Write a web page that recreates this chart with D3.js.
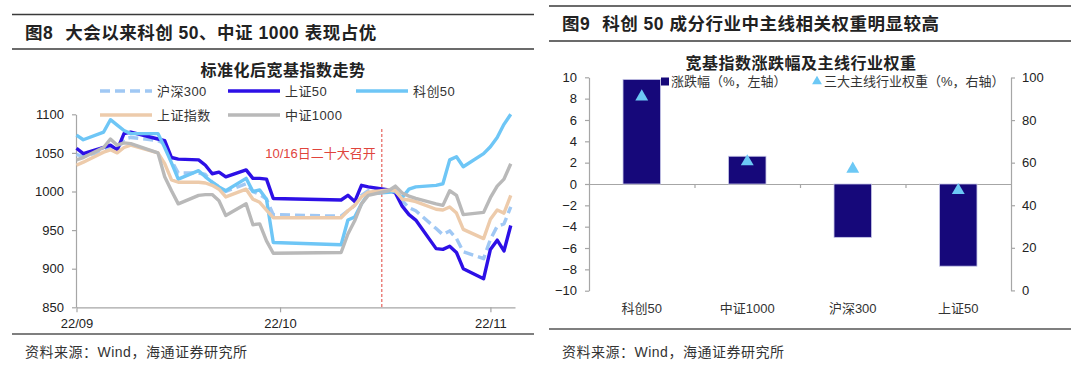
<!DOCTYPE html>
<html><head><meta charset="utf-8">
<script src="https://cdn.jsdelivr.net/npm/d3@7"></script>
<style>
body{margin:0;background:#fff;}
svg{display:block;}
text{font-family:"Liberation Sans",Arial,"Noto Sans CJK SC",sans-serif;fill:#222;}
</style>
</head><body>
<svg id="c" width="1080" height="365"></svg>
<script>
// ---------- Left chart data ----------
const dates = ["2022-09-01","2022-09-02","2022-09-05","2022-09-06","2022-09-07","2022-09-08","2022-09-09",
"2022-09-13","2022-09-14","2022-09-15","2022-09-16","2022-09-19","2022-09-20","2022-09-21","2022-09-22","2022-09-23",
"2022-09-26","2022-09-27","2022-09-28","2022-09-29","2022-09-30",
"2022-10-10","2022-10-11","2022-10-12","2022-10-13","2022-10-14","2022-10-17","2022-10-18","2022-10-19","2022-10-20","2022-10-21",
"2022-10-24","2022-10-25","2022-10-26","2022-10-27","2022-10-28","2022-10-31",
"2022-11-01","2022-11-02","2022-11-03","2022-11-04"];
const seriesNames = ["沪深300","上证50","科创50","上证指数","中证1000"];
const hs300  = [1048,1045,1053,1058,1055,1068,1070,1066,1062,1040,1024,1024,1022,1012,1006,1000,1010,1000,996,990,970,
                968,975,982,995,1001,1003,1001,988,979,975,952,944,949,939,922,913,938,955,958,980];
const sz50   = [1056,1049,1057,1060,1054,1075,1077,1068,1066,1044,1042,1041,1034,1023,1025,1019,1028,1017,1017,1016,991,
                989,995,987,1008,1006,1002,998,981,970,963,926,925,929,921,900,887,925,937,923,956];
const kc50   = [1073,1067,1077,1093,1086,1079,1075,1075,1057,1037,1016,1027,1019,1012,1006,1001,1017,1000,1002,990,934,
                931,963,967,984,997,999,1000,992,1003,1006,1008,1010,1041,1045,1032,1049,1058,1070,1087,1100];
const shIdx  = [1034,1038,1051,1054,1050,1057,1060,1050,1036,1015,1012,1012,1011,1008,1003,993,1003,990,986,976,966,
                966,975,982,993,999,1002,1001,990,989,987,977,976,980,972,951,939,964,976,972,995];
const zz1000 = [1041,1044,1057,1068,1060,1063,1062,1050,1019,1001,984,995,996,996,988,969,984,957,958,936,920,
                921,945,962,984,995,1001,1007,998,994,991,984,982,1001,995,970,973,992,1007,1016,1036];
const yTicksL = [850,900,950,1000,1050,1100];
const xTickDates = ["2022-09-01","2022-10-01","2022-11-01"];
const xTickLabels = ["22/09","22/10","22/11"];
const eventDate = "2022-10-16";
const eventLabel = "10/16日二十大召开";

// ---------- Right chart data ----------
const categories = ["科创50","中证1000","沪深300","上证50"];
const changePct = [9.8, 2.6, -5.0, -7.7];
const mainWeight = [91, 60.5, 57, 47];
const yTicksR1 = [-10,-8,-6,-4,-2,0,2,4,6,8,10];
const yTicksR2 = [0,20,40,60,80,100];

const svg = d3.select("#c");
const parse = d3.timeParse("%Y-%m-%d");

// ---------- Panel headers / footers ----------
function panelFrame(x1, x2, yTop, yBot, ty, fig, title, yFootLine, yFootText, fx) {
  svg.append("line").attr("x1",x1).attr("x2",x2).attr("y1",yTop).attr("y2",yTop).attr("stroke","#3a3a3a").attr("stroke-width",1.6);
  svg.append("line").attr("x1",x1).attr("x2",x2).attr("y1",yBot).attr("y2",yBot).attr("stroke","#3a3a3a").attr("stroke-width",1.6);
  const t = svg.append("text").attr("x",fx).attr("y",ty).attr("dy","0.36em").style("font-size","17.5px").style("font-weight","bold")
     .style("letter-spacing","0.5px").style("white-space","pre");
  t.append("tspan").text(fig);
  t.append("tspan").attr("dx",12).text(title);
  svg.append("line").attr("x1",x1).attr("x2",x2).attr("y1",yFootLine).attr("y2",yFootLine).attr("stroke","#555").attr("stroke-width",1.6);
  svg.append("text").attr("x",fx).attr("y",yFootText).attr("dy","0.36em").style("font-size","14px").style("letter-spacing","0.5px")
     .style("fill","#333").text("资料来源：Wind，海通证券研究所");
}
panelFrame(12, 534, 14.5, 49, 32.5, "图8", "大会以来科创 50、中证 1000 表现占优", 334, 352, 25);
panelFrame(549, 1071, 6, 41, 24, "图9", "科创 50 成分行业中主线相关权重明显较高", 329, 352, 562);

// ---------- Left chart ----------
const x = d3.scaleTime().domain([parse("2022-09-01"), new Date(2022,10,4,15)]).range([76.5, 515]);
const y = d3.scaleLinear().domain([850,1100]).range([307.3,114.3]);

svg.append("text").attr("x",283).attr("y",70).attr("dy","0.36em").attr("text-anchor","middle")
   .style("font-size","16px").style("font-weight","bold").style("letter-spacing","0.5px").text("标准化后宽基指数走势");

const gy = svg.append("g").attr("transform","translate(76,0)")
  .call(d3.axisLeft(y).tickValues(yTicksL).tickFormat(d3.format("d")).tickSize(4).tickPadding(8).tickSizeOuter(0));
const gx = svg.append("g").attr("transform","translate(0,307.3)")
  .call(d3.axisBottom(x).tickValues(xTickDates.map(parse)).tickFormat((d,i)=>xTickLabels[i]).tickSize(5).tickPadding(6).tickSizeOuter(0));
[gy,gx].forEach(g=>{
  g.selectAll("path,line").attr("stroke","#a6a6a6").attr("stroke-width",1.2);
  g.selectAll("text").style("font-size","13px").style("fill","#222").style("font-family","Liberation Sans, Arial, sans-serif");
});

// event line
svg.append("line").attr("x1",x(parse(eventDate))).attr("x2",x(parse(eventDate))).attr("y1",129).attr("y2",307)
   .attr("stroke","#e0443c").attr("stroke-width",1).attr("stroke-dasharray","3,2");
svg.append("text").attr("x",x(parse(eventDate))-6).attr("y",153).attr("dy","0.36em").attr("text-anchor","end")
   .style("font-size","13px").style("fill","#e0443c").text(eventLabel);

const styles = [
  {data:hs300, color:"#a0c8f4", dash:"10,5"},
  {data:sz50, color:"#2d10e6", dash:null},
  {data:kc50, color:"#6ec6f6", dash:null},
  {data:shIdx, color:"#edcbab", dash:null},
  {data:zz1000, color:"#b9b9b9", dash:null}
];
const line = d3.line().x(d=>x(d.date)).y(d=>y(d.v));
styles.forEach(s=>{
  const pts = dates.map((d,i)=>({date:parse(d), v:s.data[i]}));
  svg.append("path").datum(pts).attr("d",line).attr("fill","none").attr("stroke",s.color)
     .attr("stroke-width",3.4).attr("stroke-linejoin","round").attr("stroke-dasharray",s.dash);
});

// legend
const legPos = [[100,91],[228,91],[356,91],[100,115],[228,115]];
styles.forEach((s,i)=>{
  const [lx,ly] = legPos[i];
  svg.append("line").attr("x1",lx).attr("x2",lx+52).attr("y1",ly).attr("y2",ly).attr("stroke",s.color)
     .attr("stroke-width",3.4).attr("stroke-dasharray",s.dash);
  svg.append("text").attr("x",lx+57).attr("y",ly).attr("dy","0.36em").style("font-size","13px")
     .style("letter-spacing","0.4px").style("fill","#333").text(seriesNames[i]);
});

// ---------- Right chart ----------
const xb = d3.scaleBand().domain(categories).range([589,1011]).padding(0);
const yL = d3.scaleLinear().domain([-10,10]).range([290.7,77.3]);
const yR = d3.scaleLinear().domain([0,100]).range([290.4,77.5]);

svg.append("text").attr("x",801).attr("y",63).attr("dy","0.36em").attr("text-anchor","middle")
   .style("font-size","16px").style("font-weight","bold").style("letter-spacing","0.5px").text("宽基指数涨跌幅及主线行业权重");

const gL = svg.append("g").attr("transform","translate(589,0)")
  .call(d3.axisLeft(yL).tickValues(yTicksR1).tickSize(4).tickPadding(8).tickSizeOuter(0));
const gR = svg.append("g").attr("transform","translate(1011,0)")
  .call(d3.axisRight(yR).tickValues(yTicksR2).tickSize(4).tickPadding(7).tickSizeOuter(0));
const xi = d3.scaleLinear().domain([0,categories.length]).range([589,1011]);
const g0 = svg.append("g").attr("transform",`translate(0,${yL(0)})`)
  .call(d3.axisBottom(xi).tickValues(d3.range(1,categories.length)).tickFormat("").tickSize(4).tickSizeOuter(0));
[gL,gR,g0].forEach(g=>{
  g.selectAll("path,line").attr("stroke","#a6a6a6").attr("stroke-width",1.2);
  g.selectAll("text").style("font-size","13px").style("fill","#222").style("font-family","Liberation Sans, Arial, sans-serif");
});

const bw = xb.bandwidth()*0.355;
svg.append("g").selectAll("rect").data(categories).join("rect")
  .attr("x",c=>xb(c)+xb.bandwidth()/2-bw/2).attr("width",bw)
  .attr("y",(c,i)=>Math.min(yL(changePct[i]),yL(0)))
  .attr("height",(c,i)=>Math.abs(yL(changePct[i])-yL(0)))
  .attr("fill","#16087a").attr("stroke","#c5c5e6").attr("stroke-width",0.8);

const tri = d3.symbol().type(d3.symbolTriangle).size(72);
svg.append("g").selectAll("path").data(categories).join("path")
  .attr("transform",(c,i)=>`translate(${xb(c)+xb.bandwidth()/2},${yR(mainWeight[i])})`)
  .attr("d",tri).attr("fill","#6cc8f5");

svg.append("g").selectAll("text").data(categories).join("text")
  .attr("x",c=>xb(c)+xb.bandwidth()/2).attr("y",308.5).attr("dy","0.36em").attr("text-anchor","middle")
  .style("font-size","13px").style("fill","#333").text(c=>c);

// right legend
svg.append("rect").attr("x",661).attr("y",77.5).attr("width",8).attr("height",8).attr("fill","#16087a");
svg.append("text").attr("x",671).attr("y",81.5).attr("dy","0.36em").style("font-size","13px").style("fill","#333").text("涨跌幅（%，左轴）");
svg.append("path").attr("transform","translate(817,81.5)").attr("d",d3.symbol().type(d3.symbolTriangle).size(42)).attr("fill","#6cc8f5");
svg.append("text").attr("x",824).attr("y",81.5).attr("dy","0.36em").style("font-size","13px").style("fill","#333").text("三大主线行业权重（%，右轴）");
</script>
</body></html>
